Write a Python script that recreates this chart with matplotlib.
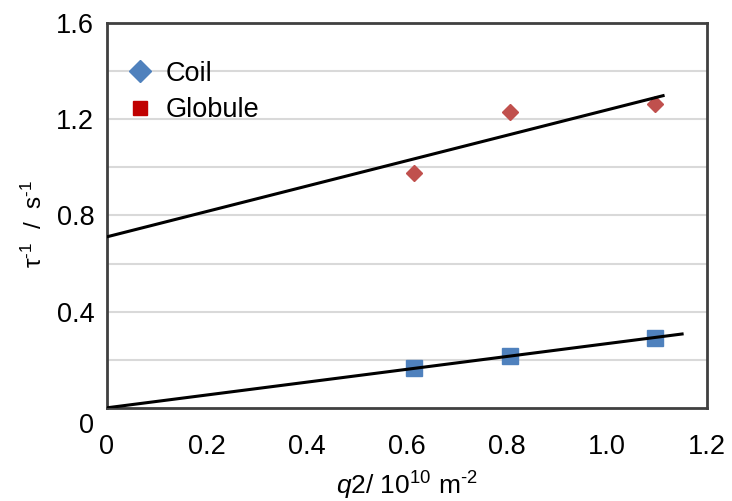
import matplotlib
matplotlib.use("Agg")
import matplotlib.pyplot as plt
import matplotlib.transforms as mtransforms
from matplotlib.lines import Line2D

plt.rcParams['font.family'] = ['Liberation Sans', 'DejaVu Sans']
plt.rcParams['mathtext.fontset'] = 'custom'
plt.rcParams['mathtext.rm'] = 'Liberation Sans'
plt.rcParams['mathtext.it'] = 'Liberation Sans:italic'

# data
q2 = [0.615, 0.805, 1.095]
coil = [0.166, 0.216, 0.291]
globule = [0.977, 1.232, 1.264]

# fit lines (end points)
coil_fit_x = [0.0, 1.15]
coil_fit_y = [0.0, 0.307]
glob_fit_x = [0.0, 1.112]
glob_fit_y = [0.711, 1.298]

x_ticks = [0, 0.2, 0.4, 0.6, 0.8, 1.0, 1.2]
x_labels = ['0', '0.2', '0.4', '0.6', '0.8', '1.0', '1.2']
y_ticks = [0, 0.4, 0.8, 1.2, 1.6]
y_labels = ['0', '0.4', '0.8', '1.2', '1.6']
y_grid = [0.2, 0.4, 0.6, 0.8, 1.0, 1.2, 1.4]

blue = '#4F81BD'
red = '#C0504D'
dark_red = '#C00000'

#####################################################################################################################

fig = plt.figure(figsize=(7.32, 5.01), dpi=100)
ax = fig.add_axes([0.146, 0.186, 0.820, 0.768])

for g in y_grid:
    ax.axhline(g, color='#D9D9D9', lw=1.5, zorder=0)

ax.plot(coil_fit_x, coil_fit_y, color='black', lw=2.2, zorder=3)
ax.plot(glob_fit_x, glob_fit_y, color='black', lw=2.2, zorder=3)
ax.plot(q2, coil, ls='none', marker='s', ms=12, color=blue, zorder=2)
ax.plot(q2, globule, ls='none', marker='D', ms=8.5, color=red, zorder=2)

ax.set_xlim(0, 1.2)
ax.set_ylim(0, 1.6)
ax.set_xticks(x_ticks)
ax.set_xticklabels(x_labels)
ax.set_yticks(y_ticks)
ax.set_yticklabels(y_labels)
ax.tick_params(axis='both', length=0, labelsize=19.5, colors='black')
ax.tick_params(axis='x', pad=19)
ax.tick_params(axis='y', pad=9)

# excel puts the zero label a bit lower
zero_lab = ax.get_yticklabels()[0]
zero_lab.set_transform(zero_lab.get_transform() +
                       mtransforms.ScaledTranslation(0, -11 / 72, fig.dpi_scale_trans))

for sp in ax.spines.values():
    sp.set_color('#404040')
    sp.set_linewidth(2)

ax.set_xlabel('$q$2/ 10$^{10}$ m$^{\\mathrm{‐2}}$', fontsize=19, labelpad=7)
ax.set_ylabel('τ$^{\\mathrm{‐1}}$  /  s$^{\\mathrm{‐1}}$', fontsize=17.5)
ax.yaxis.set_label_coords(-0.1, 0.478)

handles = [Line2D([], [], ls='none', marker='D', ms=11, color=blue, label='Coil'),
           Line2D([], [], ls='none', marker='s', ms=10, color=dark_red, label='Globule')]
ax.legend(handles=handles, loc='upper left', bbox_to_anchor=(0.015, 0.93), frameon=False,
          fontsize=19.5, handlelength=1.0, handletextpad=0.45, labelspacing=0.38, borderaxespad=0)

plt.savefig('out.png', dpi=100)
plt.close(fig)
